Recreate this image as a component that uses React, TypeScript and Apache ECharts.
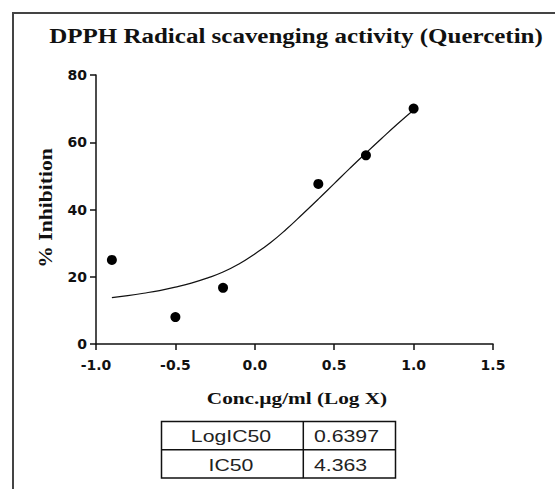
import React, { useEffect, useRef } from "react";
import * as echarts from "echarts";

const titleText = "DPPH Radical scavenging activity (Quercetin)";
const xAxisTitle = "Conc.µg/ml (Log X)";
const yAxisTitle = "% Inhibition";

// observed points (log concentration, % inhibition)
const logConc = [-0.9, -0.5, -0.2, 0.4, 0.7, 1.0];
const inhibition = [25, 8, 16.7, 47.6, 56.1, 70];

// fitted curve
const fitX = [-0.9, -0.8, -0.7, -0.6, -0.5, -0.4, -0.3, -0.2, -0.1, 0, 0.1, 0.2, 0.3, 0.4, 0.5, 0.6, 0.7, 0.8, 0.9, 1.0];
const fitY = [13.8, 14.4, 15.1, 15.9, 16.9, 18.1, 19.6, 21.4, 23.8, 26.8, 30.2, 34.2, 38.6, 43.1, 47.7, 52.3, 56.8, 61.2, 65.5, 69.6];

// results table
const tableLabels = ["LogIC50", "IC50"];
const tableValues = ["0.6397", "4.363"];

export default function App() {
  const ref = useRef<HTMLDivElement>(null);
  useEffect(() => {
    if (!ref.current) return;
    const chart = echarts.init(ref.current, undefined, { renderer: "svg" });
    const serif = "'Liberation Serif', 'Times New Roman', serif";
    const sans = "'Liberation Sans', Arial, sans-serif";
    const tickFont = "'DejaVu Sans', sans-serif";
    const SX = 1.25;

    const tableTop = 421.5;
    const rowH = 28.3;
    const tableLeft = 161.5;
    const tableRight = 395.5;
    const divX = 303.3;

    const tableGraphics: any[] = [
      {
        type: "rect",
        shape: { x: tableLeft, y: tableTop, width: tableRight - tableLeft, height: rowH * 2 },
        style: { fill: "#fff", stroke: "#111", lineWidth: 1.5 },
        z: 10,
      },
      {
        type: "line",
        shape: { x1: tableLeft, y1: tableTop + rowH, x2: tableRight, y2: tableTop + rowH },
        style: { stroke: "#111", lineWidth: 1.5 },
        z: 11,
      },
      {
        type: "line",
        shape: { x1: divX, y1: tableTop, x2: divX, y2: tableTop + rowH * 2 },
        style: { stroke: "#111", lineWidth: 1.5 },
        z: 11,
      },
    ];
    tableLabels.forEach((lab, i) => {
      tableGraphics.push({
        type: "text",
        x: 231,
        y: tableTop + rowH * (i + 0.5) + 1,
        scaleX: SX,
        z: 12,
        style: {
          text: lab,
          font: `17px ${sans}`,
          fill: "#222",
          textAlign: "center",
          textVerticalAlign: "middle",
        },
      });
      tableGraphics.push({
        type: "text",
        x: 314,
        y: tableTop + rowH * (i + 0.5) + 1,
        scaleX: SX,
        z: 12,
        style: {
          text: tableValues[i],
          font: `17px ${sans}`,
          fill: "#222",
          textAlign: "left",
          textVerticalAlign: "middle",
        },
      });
    });

    chart.setOption({
      animation: false,
      backgroundColor: "#fff",
      grid: { left: 96, top: 75, right: 62, bottom: 145, containLabel: false },
      xAxis: {
        type: "value",
        min: -1,
        max: 1.5,
        interval: 0.5,
        axisLine: { show: true, onZero: false, lineStyle: { color: "#111", width: 1.5 } },
        axisTick: { show: true, inside: false, length: 6, lineStyle: { color: "#111", width: 1.5 } },
        splitLine: { show: false },
        axisLabel: {
          color: "#111",
          fontFamily: tickFont,
          fontWeight: "bold",
          fontSize: 14,
          margin: 14,
          formatter: (v: number) => v.toFixed(1),
        },
      },
      yAxis: {
        type: "value",
        min: 0,
        max: 80,
        interval: 20,
        axisLine: { show: true, onZero: false, lineStyle: { color: "#111", width: 1.5 } },
        axisTick: { show: true, inside: false, length: 6, lineStyle: { color: "#111", width: 1.5 } },
        splitLine: { show: false },
        axisLabel: {
          color: "#111",
          fontFamily: tickFont,
          fontWeight: "bold",
          fontSize: 14,
          margin: 9,
        },
      },
      series: [
        {
          type: "line",
          data: fitX.map((x, i) => [x, fitY[i]]),
          smooth: true,
          showSymbol: false,
          symbol: "none",
          lineStyle: { color: "#111", width: 1.2 },
          z: 2,
        },
        {
          type: "scatter",
          data: logConc.map((x, i) => [x, inhibition[i]]),
          symbol: "circle",
          symbolSize: 10,
          itemStyle: { color: "#000", opacity: 1 },
          z: 3,
        },
      ],
      graphic: [
        {
          type: "line",
          shape: { x1: 13, y1: 13, x2: 13, y2: 489 },
          style: { stroke: "#444", lineWidth: 2 },
        },
        {
          type: "line",
          shape: { x1: 12, y1: 13, x2: 555, y2: 13 },
          style: { stroke: "#444", lineWidth: 2 },
        },
        {
          type: "text",
          x: 296,
          y: 36,
          scaleX: SX,
          style: {
            text: titleText,
            font: `bold 20px ${serif}`,
            fill: "#111",
            textAlign: "center",
            textVerticalAlign: "middle",
          },
        },
        {
          type: "text",
          x: 297,
          y: 398,
          scaleX: SX,
          style: {
            text: xAxisTitle,
            font: `bold 17px ${serif}`,
            fill: "#111",
            textAlign: "center",
            textVerticalAlign: "middle",
          },
        },
        {
          type: "text",
          x: 46,
          y: 208,
          rotation: Math.PI / 2,
          scaleX: 1.2,
          style: {
            text: yAxisTitle,
            font: `bold 18px ${serif}`,
            fill: "#111",
            textAlign: "center",
            textVerticalAlign: "middle",
          },
        },
        ...tableGraphics,
      ],
    });
    return () => chart.dispose();
  }, []);
  return (
    <div
      ref={ref}
      style={{ position: "fixed", left: 0, top: 0, width: 555, height: 489 }}
    />
  );
}
